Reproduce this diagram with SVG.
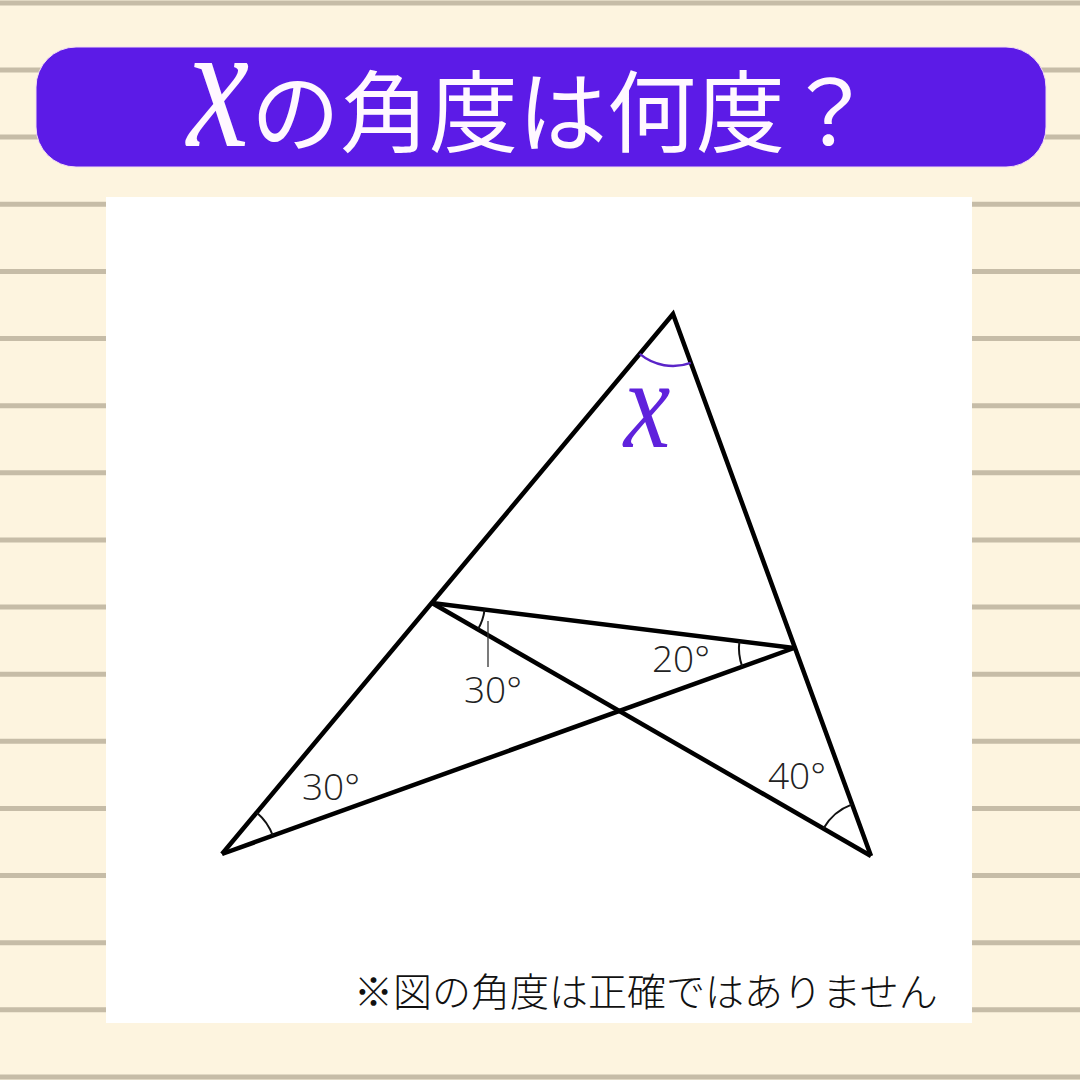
<svg xmlns="http://www.w3.org/2000/svg" width="1080" height="1080" viewBox="0 0 1080 1080">
  <style>
    .stripe { stroke: #c6bca7; stroke-width: 5; }
    .edge { stroke: #000; stroke-width: 4.5; fill: none; stroke-linejoin: miter; stroke-linecap: butt; }
    .arc { stroke: #111; stroke-width: 2; fill: none; }
    .deg { font-family: "Open Sans", "Noto Sans", "DejaVu Sans", sans-serif; font-weight: 300; font-size: 37px; fill: #222; }
    .title { font-family: "Noto Sans CJK JP", "Noto Sans", sans-serif; font-weight: 400; font-size: 89px; fill: #fff8ff; }
    .xvar { font-family: "Liberation Serif", "DejaVu Serif", serif; font-style: italic; text-anchor: middle; }
    .note { font-family: "Noto Sans CJK JP", "Noto Sans", sans-serif; font-weight: 200; font-size: 39px; fill: #111; }
  </style>
  <g id="background">
    <rect x="0" y="0" width="1080" height="1080" fill="#fdf4df"/>
    <line class="stripe" x1="0" y1="2.9" x2="1080" y2="2.9"/>
    <line class="stripe" x1="0" y1="70" x2="1080" y2="70"/>
    <line class="stripe" x1="0" y1="137.1" x2="1080" y2="137.1"/>
    <line class="stripe" x1="0" y1="204.3" x2="1080" y2="204.3"/>
    <line class="stripe" x1="0" y1="271.4" x2="1080" y2="271.4"/>
    <line class="stripe" x1="0" y1="338.5" x2="1080" y2="338.5"/>
    <line class="stripe" x1="0" y1="405.7" x2="1080" y2="405.7"/>
    <line class="stripe" x1="0" y1="472.8" x2="1080" y2="472.8"/>
    <line class="stripe" x1="0" y1="539.9" x2="1080" y2="539.9"/>
    <line class="stripe" x1="0" y1="607" x2="1080" y2="607"/>
    <line class="stripe" x1="0" y1="674.2" x2="1080" y2="674.2"/>
    <line class="stripe" x1="0" y1="741.3" x2="1080" y2="741.3"/>
    <line class="stripe" x1="0" y1="808.4" x2="1080" y2="808.4"/>
    <line class="stripe" x1="0" y1="875.6" x2="1080" y2="875.6"/>
    <line class="stripe" x1="0" y1="942.7" x2="1080" y2="942.7"/>
    <line class="stripe" x1="0" y1="1009.8" x2="1080" y2="1009.8"/>
    <line class="stripe" x1="0" y1="1077" x2="1080" y2="1077"/>
  </g>
  <g id="header">
    <rect x="36" y="47" width="1010" height="120" rx="40" ry="40" fill="#5c1be7" stroke="#f3dcf3" stroke-width="1"/>
    <text class="xvar" transform="translate(218,146) scale(1,1.28)" font-size="140" fill="#fff8ff">x</text>
    <text class="title" x="251" y="145">の角度は何度？</text>
  </g>
  <g id="panel">
    <rect x="106" y="197" width="866" height="826" fill="#ffffff"/>
  </g>
  <g id="connectors">
    <polyline class="edge" points="222,854 673,314 871,856"/>
    <line class="edge" x1="432" y1="603" x2="794" y2="648"/>
    <line class="edge" x1="432" y1="603" x2="871" y2="856"/>
    <line class="edge" x1="222" y1="854" x2="794" y2="648"/>
  </g>
  <g id="angle-marks">
    <path class="arc" d="M256.6,812.5 A54,54 0 0 1 272.8,835.7"/>
    <path class="arc" d="M852.1,804.4 A55,55 0 0 0 823.4,828.5"/>
    <path class="arc" d="M739.4,641.2 A55,55 0 0 0 742.2,666.6"/>
    <path class="arc" d="M484.6,609.5 A53,53 0 0 1 477.9,629.4"/>
    <line x1="488" y1="621" x2="488" y2="667" stroke="#333" stroke-width="1.3"/>
    <path d="M639.7,353.9 A52,52 0 0 0 690.8,362.8" fill="none" stroke="#5a24c8" stroke-width="2.5"/>
  </g>
  <g id="labels">
    <text class="deg" x="302" y="800">30°</text>
    <text class="deg" x="464" y="703">30°</text>
    <text class="deg" x="652" y="672">20°</text>
    <text class="deg" x="768" y="789">40°</text>
    <text class="xvar" transform="translate(647,447) scale(1,1.22)" font-size="105" fill="#5f22dc">x</text>
  </g>
  <g id="note">
    <text class="note" x="354" y="1006">※図の角度は正確ではありません</text>
  </g>
</svg>
